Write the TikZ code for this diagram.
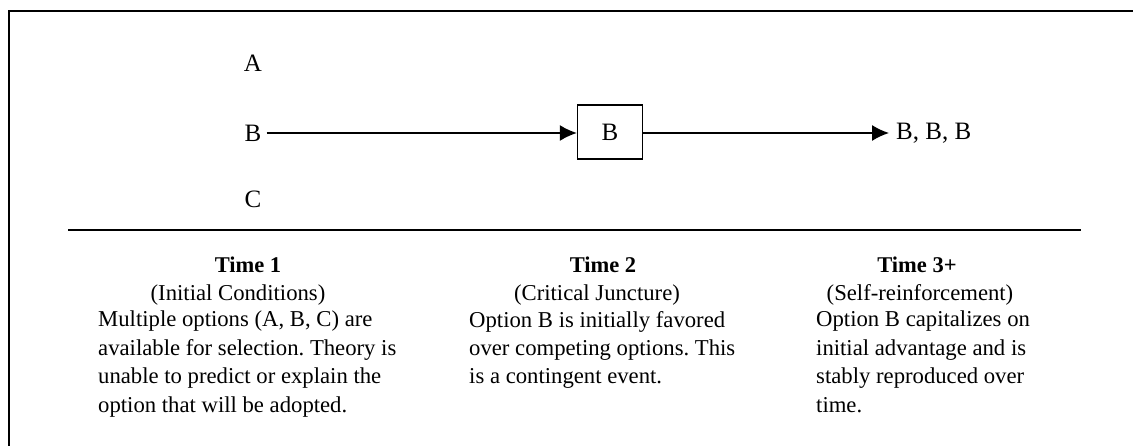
\documentclass[tikz,border=0pt]{standalone}
\usepackage{fontspec}
\setmainfont{Liberation Serif}
\usetikzlibrary{arrows.meta}
\frenchspacing
\tikzset{
  lab/.style={font=\fontsize{25}{30}\selectfont, inner xsep=5pt, inner ysep=0pt},
  boxB/.style={draw, line width=1.4pt, minimum width=65pt, minimum height=54pt, font=\fontsize{25}{30}\selectfont, inner sep=0pt},
  arr/.style={line width=1.4pt, -{Latex[length=17pt,width=16pt]}},
  head/.style={font=\fontsize{22.5}{28}\selectfont\bfseries, inner sep=0pt, anchor=base},
  sub/.style={font=\fontsize{22.7}{28}\selectfont, inner sep=0pt, anchor=base},
  body/.style={font=\fontsize{22.7}{28.4}\selectfont, inner sep=0pt, align=left, anchor=north west},
  frame/.style={line width=2pt},
  rule/.style={line width=1.8pt}
}
\begin{document}
\begin{tikzpicture}[x=1pt,y=-1pt]
\useasboundingbox (0,0) rectangle (1133,446);
% frame
\coordinate (f1) at (9,446);
\coordinate (f2) at (9,11);
\coordinate (f3) at (1133,11);
\draw[frame] (f1) -- (f2) -- (f3);
% options
\node[lab] (A) at (253,63) {A};
\node[lab] (Bl) at (253,133) {B};
\node[lab] (C) at (253,199) {C};
\node[boxB] (Bbox) at (610,132) {B};
\node[lab, anchor=west, inner xsep=7pt] (BBB) at (889,133) {B, B, B};
\draw[arr] (Bl) -- (Bbox.west |- Bl);
\draw[arr] (Bbox.east |- Bl) -- (BBB);
% rule
\coordinate (r1) at (68,230);
\coordinate (r2) at (1081,230);
\draw[rule] (r1) -- (r2);
% column 1
\node[head] (t1) at (248,273) {Time 1};
\node[sub] (s1) at (238,301) {(Initial Conditions)};
\node[body] (b1) at (98,311) {Multiple options (A, B, C) are\\available for selection. Theory is\\unable to predict or explain the\\option that will be adopted.};
% column 2
\node[head] (t2) at (603,273) {Time 2};
\node[sub] (s2) at (597,301) {(Critical Juncture)};
\node[body] (b2) at (469,311) {Option B is initially favored\\over competing options. This\\is a contingent event.};
% column 3
\node[head] (t3) at (917,273) {Time 3+};
\node[sub] (s3) at (920,301) {(Self-reinforcement)};
\node[body] (b3) at (816,311) {Option B capitalizes on\\initial advantage and is\\stably reproduced over\\time.};
\end{tikzpicture}
\end{document}
